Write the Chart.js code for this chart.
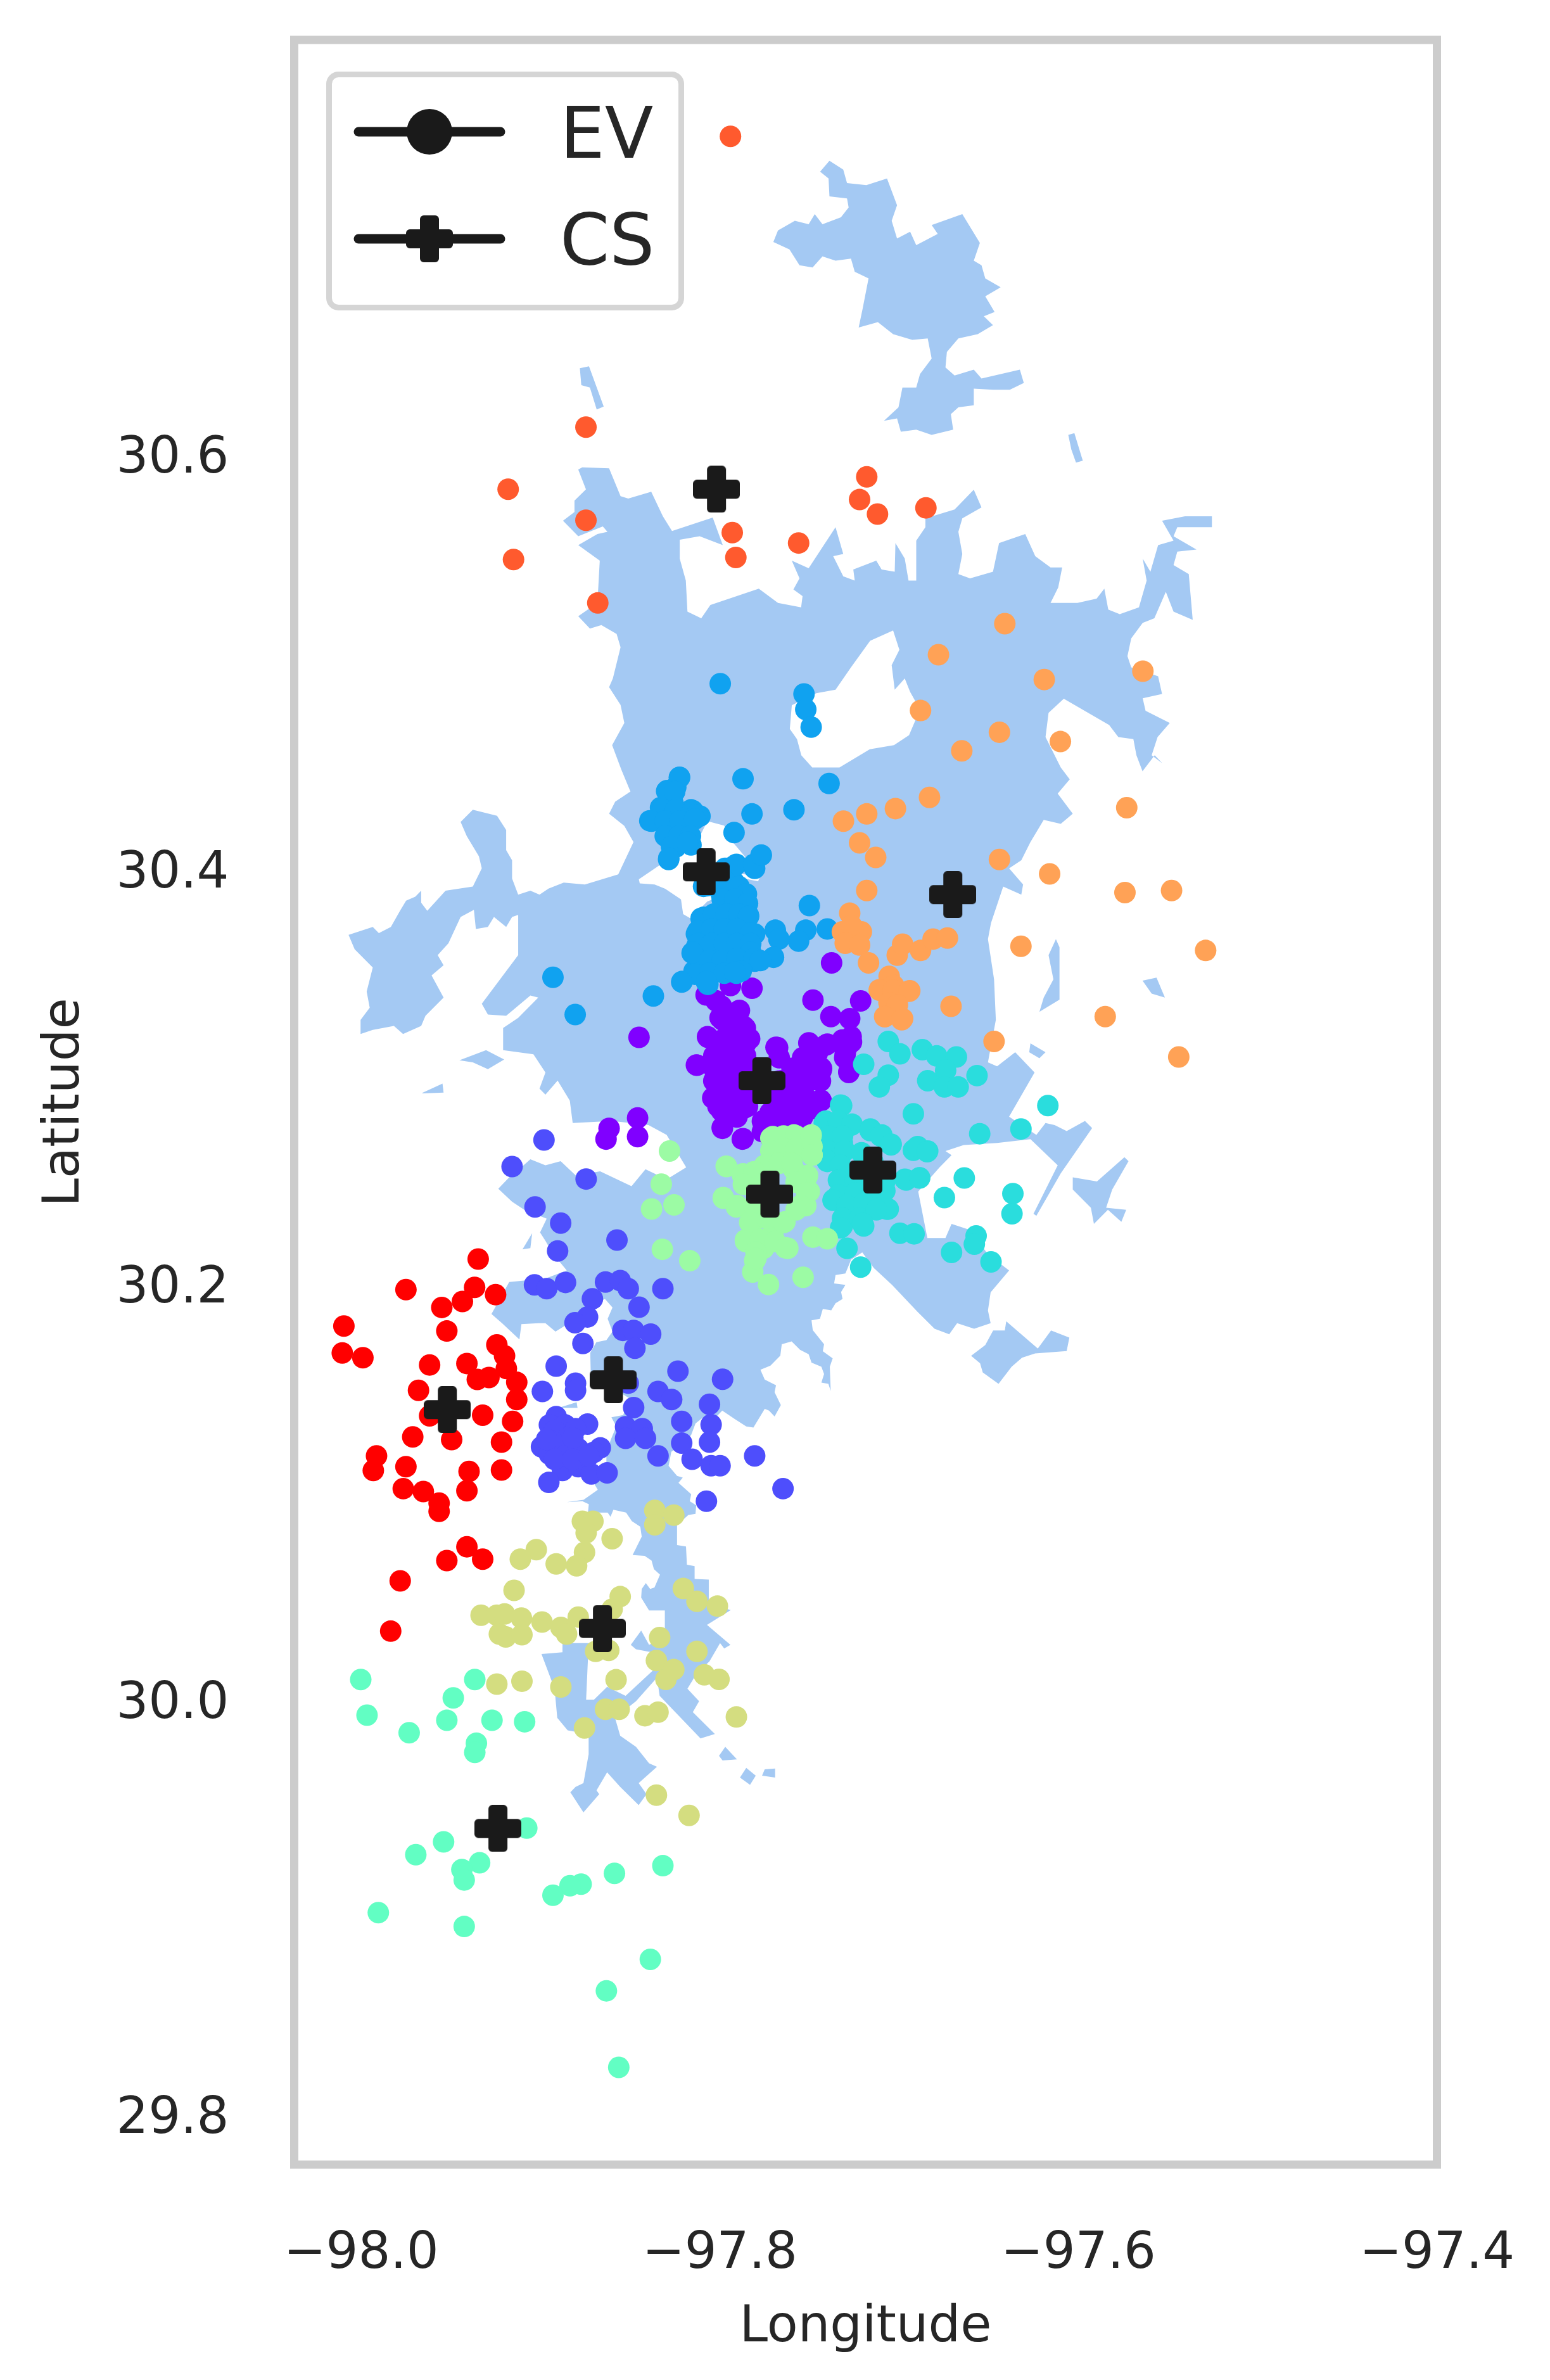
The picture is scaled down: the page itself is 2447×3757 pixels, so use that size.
<!DOCTYPE html>
<html>
<head>
<meta charset="utf-8">
<title>EV and CS locations</title>
<script src="https://cdn.jsdelivr.net/npm/chart.js@4/dist/chart.umd.js"></script>
<style>
  html, body { margin: 0; padding: 0; background: #fff; }
  canvas { display: block; }
</style>
</head>
<body>
<canvas id="mapChart" width="2447" height="3757"></canvas>
<script>
// axis ticks
const lonTicks = [-98.0, -97.8, -97.6, -97.4];
const latTicks = [29.8, 30.0, 30.2, 30.4, 30.6];

// latitudes below were read with a slightly short tick spacing, this brings them back
const LAT_READ_FIX = 0.99634;

// charging stations [lon, lat]
const csPoints = [[-97.8018,30.583],[-97.67,30.387],[-97.8076,30.398],[-97.7765,30.297],[-97.7146,30.2538],[-97.772,30.2422],[-97.8593,30.1524],[-97.9519,30.138],[-97.8654,30.0322],[-97.9237,29.9355]];

// EVs by cluster [lon, lat]
const evRed = [[-97.9347,30.2108],[-97.975,30.196],[-97.9367,30.1971],[-97.925,30.1936],[-97.9435,30.1903],[-97.955,30.1874],[-98.0096,30.1784],[-97.9522,30.176],[-98.0105,30.1654],[-97.999,30.1631],[-97.9243,30.1693],[-97.92,30.164],[-97.9618,30.1596],[-97.941,30.1603],[-97.919,30.1579],[-97.9352,30.1526],[-97.9287,30.1535],[-97.9132,30.1512],[-97.968,30.1473],[-97.9132,30.1429],[-97.9618,30.135],[-97.9322,30.1353],[-97.9155,30.1323],[-97.9712,30.1248],[-97.9495,30.1235],[-97.9217,30.1223],[-97.9914,30.1156],[-97.9932,30.1086],[-97.975,30.1104],[-97.9398,30.1081],[-97.9217,30.1088],[-97.9765,30.0998],[-97.9653,30.0984],[-97.9565,30.0928],[-97.9565,30.0888],[-97.941,30.0988],[-97.941,30.0717],[-97.9522,30.065],[-97.9322,30.0657],[-97.9782,30.0552],[-97.9835,30.0309]];
const evOrangeRed = [[-97.794,30.7536],[-97.8746,30.613],[-97.918,30.583],[-97.8746,30.568],[-97.915,30.549],[-97.868,30.528],[-97.793,30.562],[-97.791,30.55],[-97.756,30.557],[-97.718,30.589],[-97.722,30.578],[-97.712,30.571],[-97.685,30.574]];
const evOrange = [[-97.641,30.518],[-97.678,30.503],[-97.564,30.495],[-97.619,30.491],[-97.688,30.476],[-97.644,30.4655],[-97.61,30.461],[-97.665,30.4565],[-97.573,30.429],[-97.683,30.434],[-97.702,30.4286],[-97.718,30.426],[-97.731,30.4225],[-97.722,30.412],[-97.713,30.405],[-97.644,30.404],[-97.616,30.397],[-97.718,30.389],[-97.574,30.388],[-97.548,30.389],[-97.7275,30.378],[-97.632,30.362],[-97.529,30.36],[-97.7316,30.369],[-97.721,30.369],[-97.7265,30.372],[-97.73,30.3635],[-97.722,30.3626],[-97.717,30.354],[-97.701,30.3577],[-97.698,30.363],[-97.688,30.36],[-97.681,30.3655],[-97.673,30.366],[-97.7055,30.3475],[-97.711,30.341],[-97.694,30.3405],[-97.703,30.336],[-97.708,30.328],[-97.698,30.327],[-97.703,30.343],[-97.702,30.331],[-97.671,30.333],[-97.585,30.328],[-97.647,30.316],[-97.544,30.3085],[-97.7109,30.3408],[-97.7032,30.3408],[-97.6944,30.3403],[-97.7056,30.3347],[-97.7009,30.3337],[-97.7079,30.328],[-97.6985,30.3265]];
const evKhaki = [[-97.8362,30.0893],[-97.8256,30.087],[-97.8362,30.0823],[-97.8766,30.084],[-97.8707,30.084],[-97.8745,30.0784],[-97.86,30.0756],[-97.9023,30.0703],[-97.9112,30.0657],[-97.8754,30.069],[-97.8912,30.0634],[-97.8798,30.0625],[-97.9147,30.0506],[-97.8203,30.0515],[-97.8127,30.0453],[-97.8013,30.043],[-97.8555,30.0476],[-97.86,30.0415],[-97.9331,30.0386],[-97.9243,30.0386],[-97.92,30.0392],[-97.9106,30.0372],[-97.8991,30.0353],[-97.8789,30.0377],[-97.8886,30.0327],[-97.8854,30.0295],[-97.9229,30.0295],[-97.9193,30.0281],[-97.9103,30.0292],[-97.8335,30.0278],[-97.8692,30.0211],[-97.8619,30.0216],[-97.8127,30.0211],[-97.8353,30.0167],[-97.8256,30.0123],[-97.8086,30.0098],[-97.8004,30.0076],[-97.83,30.0076],[-97.9103,30.0067],[-97.9243,30.0053],[-97.8578,30.0074],[-97.8886,30.0039],[-97.8637,29.9931],[-97.8561,29.9931],[-97.8417,29.99],[-97.8344,29.9917],[-97.7907,29.9894],[-97.8754,29.9841],[-97.8353,29.9516],[-97.8171,29.9418]];
const evLightGreen = [[-97.828,30.263],[-97.8326,30.247],[-97.838,30.235],[-97.8255,30.237],[-97.832,30.2155],[-97.8167,30.21],[-97.7964,30.2557],[-97.787,30.252],[-97.798,30.2405],[-97.7907,30.236],[-97.7704,30.27],[-97.7586,30.2708],[-97.749,30.2708],[-97.7704,30.262],[-97.7586,30.262],[-97.7485,30.261],[-97.772,30.2551],[-97.7586,30.254],[-97.751,30.2512],[-97.75,30.2434],[-97.752,30.2366],[-97.7755,30.2464],[-97.779,30.2346],[-97.7636,30.2288],[-97.782,30.2278],[-97.7704,30.223],[-97.7857,30.22],[-97.7755,30.216],[-97.762,30.216],[-97.7805,30.21],[-97.7816,30.2045],[-97.7728,30.1985],[-97.7535,30.202],[-97.748,30.2214],[-97.74,30.2206],[-97.7715,30.2693],[-97.7644,30.2703],[-97.7574,30.2703],[-97.7491,30.2703],[-97.7715,30.2632],[-97.7644,30.2642],[-97.7574,30.2642],[-97.7485,30.2652],[-97.7485,30.2612],[-97.775,30.2561],[-97.7668,30.2571],[-97.7597,30.2571],[-97.7515,30.2504],[-97.7962,30.2555],[-97.7874,30.2515],[-97.7809,30.253],[-97.7868,30.2469],[-97.7774,30.2469],[-97.7574,30.2479],[-97.7515,30.2428],[-97.798,30.2402],[-97.7904,30.2367],[-97.7809,30.2367],[-97.755,30.2367],[-97.7833,30.2285],[-97.7739,30.2305],[-97.7644,30.2285],[-97.7574,30.2346],[-97.7856,30.2193],[-97.7774,30.2203],[-97.7691,30.2193],[-97.7633,30.2162],[-97.7798,30.2142],[-97.7798,30.2111]];
const evAqua = [[-98.0002,30.0075],[-97.9366,30.0075],[-97.9486,29.9986],[-97.9967,29.9903],[-97.9522,29.9878],[-97.927,29.9878],[-97.9088,29.9871],[-97.9732,29.9818],[-97.9357,29.9767],[-97.9366,29.9723],[-97.9076,29.9357],[-97.954,29.929],[-97.9695,29.9228],[-97.9339,29.9189],[-97.9438,29.9156],[-97.9425,29.9106],[-97.8317,29.9175],[-97.8587,29.9138],[-97.8773,29.9086],[-97.8835,29.9078],[-97.893,29.9032],[-97.9904,29.8948],[-97.9425,29.8881],[-97.8387,29.8722],[-97.8632,29.857],[-97.8563,29.82]];
const evCyan = [[-97.706,30.316],[-97.6995,30.31],[-97.687,30.312],[-97.679,30.309],[-97.668,30.3085],[-97.7197,30.305],[-97.706,30.2997],[-97.711,30.294],[-97.684,30.297],[-97.6565,30.2995],[-97.674,30.302],[-97.6747,30.294],[-97.667,30.294],[-97.617,30.285],[-97.692,30.281],[-97.632,30.2737],[-97.655,30.2714],[-97.6636,30.25],[-97.6747,30.2405],[-97.6365,30.2424],[-97.637,30.2327],[-97.691,30.264],[-97.684,30.263],[-97.7045,30.266],[-97.716,30.2737],[-97.7096,30.2708],[-97.7265,30.2756],[-97.732,30.285],[-97.7417,30.2766],[-97.745,30.27],[-97.74,30.258],[-97.7316,30.267],[-97.733,30.248],[-97.7366,30.2395],[-97.7265,30.2366],[-97.7146,30.2385],[-97.706,30.235],[-97.696,30.249],[-97.6886,30.25],[-97.708,30.248],[-97.7214,30.248],[-97.7316,30.2268],[-97.7197,30.2268],[-97.7214,30.2327],[-97.6995,30.2233],[-97.6916,30.223],[-97.729,30.216],[-97.7214,30.2069],[-97.6707,30.214],[-97.657,30.222],[-97.658,30.218],[-97.6487,30.2094],[-97.7146,30.258],[-97.7326,30.2852],[-97.7409,30.2775],[-97.7338,30.2775],[-97.7262,30.276],[-97.7161,30.2729],[-97.7103,30.2703],[-97.7044,30.2663],[-97.7397,30.2703],[-97.7315,30.2703],[-97.7397,30.2632],[-97.7303,30.2632],[-97.7209,30.2622],[-97.7403,30.2586],[-97.7326,30.2561],[-97.7338,30.2489],[-97.7244,30.2489],[-97.7338,30.2418],[-97.7244,30.2428],[-97.715,30.2428],[-97.7079,30.2438],[-97.7368,30.2392],[-97.7291,30.2367],[-97.7197,30.2377],[-97.7103,30.2356],[-97.7067,30.2349],[-97.7315,30.2305],[-97.722,30.2305],[-97.7126,30.2346],[-97.7326,30.2259],[-97.7203,30.228],[-97.6967,30.2494],[-97.6885,30.2501],[-97.692,30.2634],[-97.6896,30.2652],[-97.6843,30.2627]];
const evSky = [[-97.7997,30.489],[-97.753,30.484],[-97.752,30.4765],[-97.749,30.468],[-97.8225,30.4436],[-97.787,30.443],[-97.739,30.4407],[-97.782,30.426],[-97.7586,30.428],[-97.792,30.417],[-97.8296,30.437],[-97.8245,30.439],[-97.833,30.429],[-97.826,30.431],[-97.816,30.428],[-97.839,30.4227],[-97.8296,30.424],[-97.821,30.424],[-97.811,30.425],[-97.8296,30.415],[-97.819,30.415],[-97.8245,30.41],[-97.816,30.411],[-97.8285,30.404],[-97.777,30.406],[-97.7805,30.3997],[-97.7907,30.4016],[-97.797,30.3997],[-97.809,30.391],[-97.792,30.393],[-97.7857,30.387],[-97.799,30.387],[-97.75,30.3817],[-97.769,30.3698],[-97.74,30.3704],[-97.752,30.3698],[-97.756,30.3645],[-97.767,30.3655],[-97.77,30.3567],[-97.7805,30.3548],[-97.809,30.376],[-97.796,30.379],[-97.784,30.377],[-97.813,30.368],[-97.799,30.369],[-97.7805,30.368],[-97.813,30.3616],[-97.799,30.3616],[-97.7857,30.3616],[-97.8154,30.3587],[-97.806,30.3557],[-97.792,30.3557],[-97.782,30.3577],[-97.8143,30.35],[-97.799,30.35],[-97.7907,30.349],[-97.821,30.345],[-97.8066,30.3436],[-97.837,30.338],[-97.893,30.347],[-97.8806,30.329],[-97.8224,30.4437],[-97.8293,30.4373],[-97.8251,30.4368],[-97.8316,30.4281],[-97.8245,30.4281],[-97.8151,30.4276],[-97.8128,30.4255],[-97.8381,30.4225],[-97.8304,30.4225],[-97.8222,30.4225],[-97.8139,30.4235],[-97.8304,30.4153],[-97.8228,30.4153],[-97.8163,30.4153],[-97.8269,30.4102],[-97.8181,30.4123],[-97.8284,30.4046],[-97.7939,30.4],[-97.7916,30.401],[-97.781,30.4016],[-97.7768,30.4061],[-97.8069,30.3913],[-97.7975,30.3939],[-97.7892,30.3908],[-97.7851,30.3873],[-97.7986,30.3847],[-97.7916,30.3847],[-97.7845,30.3827],[-97.8104,30.3755],[-97.8033,30.3776],[-97.7963,30.3776],[-97.7892,30.3776],[-97.7839,30.3765],[-97.8122,30.3694],[-97.8045,30.3704],[-97.7975,30.3704],[-97.7904,30.3704],[-97.7827,30.3684],[-97.8122,30.3633],[-97.8045,30.3633],[-97.7975,30.3633],[-97.7904,30.3633],[-97.7827,30.3633],[-97.8151,30.359],[-97.7827,30.3592],[-97.8057,30.3551],[-97.7986,30.3551],[-97.7904,30.3561],[-97.781,30.3561],[-97.7774,30.3551],[-97.8139,30.3485],[-97.8057,30.349],[-97.7975,30.349],[-97.788,30.35],[-97.8075,30.3449],[-97.7916,30.3495],[-97.8212,30.3447]];
const evBlue = [[-97.898,30.2684],[-97.9158,30.2555],[-97.8745,30.2495],[-97.903,30.236],[-97.8887,30.2282],[-97.8904,30.2147],[-97.8573,30.22],[-97.9033,30.1983],[-97.8965,30.1965],[-97.886,30.1995],[-97.8637,30.1997],[-97.8555,30.2004],[-97.851,30.1965],[-97.8317,30.1965],[-97.871,30.1916],[-97.845,30.1875],[-97.8737,30.1828],[-97.8807,30.18],[-97.854,30.1763],[-97.848,30.1763],[-97.8385,30.1745],[-97.8763,30.17],[-97.8473,30.1677],[-97.8233,30.1566],[-97.7984,30.1527],[-97.8912,30.159],[-97.8804,30.1508],[-97.8804,30.1473],[-97.8989,30.1468],[-97.851,30.1508],[-97.8344,30.1468],[-97.8268,30.1429],[-97.8057,30.1406],[-97.848,30.139],[-97.8212,30.1323],[-97.8048,30.1307],[-97.8057,30.1223],[-97.8212,30.1218],[-97.8525,30.1297],[-97.8432,30.1288],[-97.8525,30.1241],[-97.8414,30.1241],[-97.8344,30.1156],[-97.8154,30.114],[-97.8048,30.1109],[-97.7998,30.1109],[-97.7805,30.1156],[-97.7647,30.0998],[-97.8074,30.0937],[-97.8912,30.1346],[-97.895,30.1306],[-97.8862,30.1306],[-97.8737,30.131],[-97.8804,30.1288],[-97.8892,30.1253],[-97.8994,30.12],[-97.8906,30.1191],[-97.8789,30.1191],[-97.8666,30.1195],[-97.8701,30.1174],[-97.895,30.1165],[-97.8877,30.1086],[-97.8789,30.1104],[-97.8716,30.1069],[-97.8628,30.1074],[-97.8953,30.1028],[-97.8921,30.128],[-97.8848,30.1244],[-97.8936,30.1227],[-97.8862,30.1156],[-97.8921,30.1139],[-97.8819,30.1139],[-97.8731,30.1156],[-97.8819,30.1244],[-97.8965,30.1236]];
const evPurple = [[-97.7376,30.354],[-97.794,30.343],[-97.782,30.3417],[-97.8076,30.3385],[-97.748,30.336],[-97.7214,30.3356],[-97.799,30.333],[-97.789,30.331],[-97.7985,30.3264],[-97.738,30.328],[-97.7275,30.327],[-97.845,30.318],[-97.8066,30.318],[-97.7857,30.3225],[-97.794,30.3167],[-97.7857,30.3147],[-97.7677,30.313],[-97.75,30.3147],[-97.74,30.3147],[-97.7316,30.3167],[-97.7265,30.3157],[-97.73,30.31],[-97.813,30.3046],[-97.799,30.31],[-97.787,30.307],[-97.7485,30.307],[-97.7434,30.302],[-97.728,30.301],[-97.7586,30.303],[-97.8008,30.299],[-97.7857,30.297],[-97.765,30.297],[-97.752,30.297],[-97.8025,30.289],[-97.7857,30.289],[-97.769,30.289],[-97.755,30.289],[-97.7434,30.2874],[-97.799,30.2825],[-97.787,30.2835],[-97.772,30.2815],[-97.7586,30.2815],[-97.7485,30.2835],[-97.7985,30.274],[-97.7755,30.2756],[-97.762,30.2756],[-97.787,30.269],[-97.772,30.27],[-97.8458,30.279],[-97.8617,30.274],[-97.8634,30.2688],[-97.8458,30.27],[-97.8068,30.3387],[-97.8021,30.3357],[-97.7998,30.3275],[-97.7892,30.3306],[-97.7951,30.3224],[-97.7868,30.3234],[-97.8068,30.3183],[-97.7998,30.3163],[-97.7915,30.3163],[-97.7833,30.3173],[-97.7686,30.3132],[-97.7503,30.3153],[-97.7409,30.3142],[-97.7267,30.3183],[-97.7291,30.3132],[-97.8033,30.3091],[-97.7951,30.3091],[-97.7856,30.3091],[-97.7668,30.3081],[-97.7538,30.3081],[-97.7456,30.3102],[-97.7303,30.3081],[-97.8127,30.3045],[-97.8033,30.303],[-97.7951,30.303],[-97.7856,30.303],[-97.7597,30.303],[-97.7515,30.303],[-97.7432,30.303],[-97.7279,30.3015],[-97.8033,30.2969],[-97.7951,30.2969],[-97.7856,30.2969],[-97.7668,30.2969],[-97.7585,30.2969],[-97.7503,30.2969],[-97.7438,30.2969],[-97.8039,30.2887],[-97.7962,30.2897],[-97.788,30.2897],[-97.7691,30.2887],[-97.7609,30.2897],[-97.7527,30.2897],[-97.7438,30.2877],[-97.801,30.2846],[-97.7927,30.2836],[-97.7845,30.2846],[-97.768,30.2836],[-97.7597,30.2836],[-97.7515,30.2836],[-97.7986,30.2744],[-97.7904,30.2795],[-97.7762,30.2775],[-97.768,30.2775],[-97.7597,30.2775],[-97.7538,30.2795],[-97.7874,30.2688],[-97.7762,30.2724],[-97.7691,30.2724]];

// service area outline [lon, lat]
const areaMain = [[-97.8767,30.5936],[-97.8617,30.5931],[-97.8553,30.5796],[-97.851,30.5785],[-97.8382,30.5818],[-97.8317,30.5699],[-97.8266,30.5628],[-97.8039,30.5693],[-97.7983,30.556],[-97.8112,30.5603],[-97.8223,30.5586],[-97.8223,30.5495],[-97.8189,30.5388],[-97.818,30.5238],[-97.8103,30.5206],[-97.8052,30.527],[-97.7782,30.5349],[-97.7675,30.528],[-97.7546,30.5259],[-97.7538,30.5313],[-97.7589,30.5345],[-97.7555,30.5399],[-97.7598,30.5485],[-97.7504,30.5448],[-97.7354,30.5646],[-97.7311,30.5517],[-97.7367,30.5506],[-97.7311,30.5409],[-97.7247,30.5388],[-97.7255,30.5442],[-97.7127,30.5485],[-97.7097,30.5442],[-97.7024,30.5431],[-97.702,30.557],[-97.6968,30.5495],[-97.6947,30.5388],[-97.6904,30.5388],[-97.6904,30.5581],[-97.6853,30.5646],[-97.6853,30.5689],[-97.669,30.5732],[-97.6583,30.5828],[-97.654,30.5742],[-97.6647,30.5689],[-97.6669,30.5624],[-97.6647,30.5517],[-97.6669,30.542],[-97.6604,30.5399],[-97.6476,30.5431],[-97.6442,30.557],[-97.6296,30.5613],[-97.624,30.5506],[-97.6155,30.5452],[-97.609,30.5452],[-97.6112,30.5355],[-97.6155,30.528],[-97.6005,30.528],[-97.5898,30.5301],[-97.5855,30.5349],[-97.5833,30.5248],[-97.5769,30.5226],[-97.5662,30.5259],[-97.5619,30.5388],[-97.5641,30.5495],[-97.5598,30.5431],[-97.5555,30.556],[-97.5469,30.5581],[-97.5533,30.5678],[-97.5405,30.5699],[-97.5255,30.5699],[-97.5255,30.5646],[-97.5448,30.5646],[-97.5469,30.5603],[-97.5341,30.5538],[-97.5448,30.5528],[-97.5469,30.5463],[-97.5384,30.542],[-97.5362,30.5198],[-97.5469,30.5238],[-97.5512,30.5334],[-97.5576,30.5206],[-97.5641,30.5184],[-97.5705,30.5109],[-97.5726,30.5023],[-97.5705,30.4969],[-97.5555,30.4926],[-97.5533,30.484],[-97.5641,30.4819],[-97.5625,30.4759],[-97.549,30.47],[-97.5558,30.4632],[-97.5591,30.4544],[-97.5531,30.4505],[-97.5574,30.4544],[-97.5642,30.4466],[-97.5676,30.4544],[-97.5693,30.4622],[-97.5777,30.4632],[-97.5828,30.469],[-97.6081,30.4817],[-97.6166,30.4749],[-97.6183,30.4632],[-97.6098,30.4485],[-97.6048,30.4427],[-97.6115,30.4358],[-97.6031,30.4261],[-97.6098,30.4212],[-97.6193,30.4231],[-97.6267,30.4124],[-97.6318,30.4036],[-97.6386,30.3997],[-97.6308,30.3919],[-97.6318,30.387],[-97.6419,30.3909],[-97.6487,30.3733],[-97.6504,30.3655],[-97.647,30.346],[-97.646,30.3264],[-97.6504,30.3059],[-97.6453,30.304],[-97.6352,30.3108],[-97.6244,30.301],[-97.6386,30.2796],[-97.6234,30.2708],[-97.6183,30.2766],[-97.6132,30.2756],[-97.6065,30.2727],[-97.5963,30.2776],[-97.5923,30.2741],[-97.6098,30.2522],[-97.6234,30.2317],[-97.625,30.2327],[-97.6115,30.2561],[-97.6267,30.2688],[-97.6453,30.2669],[-97.6639,30.2659],[-97.6741,30.263],[-97.6707,30.261],[-97.6774,30.2551],[-97.6893,30.2434],[-97.6842,30.221],[-97.6741,30.221],[-97.6707,30.2278],[-97.6605,30.2249],[-97.6504,30.2131],[-97.6386,30.2053],[-97.6489,30.1947],[-97.6504,30.1859],[-97.6489,30.1798],[-97.6581,30.1771],[-97.6676,30.1798],[-97.672,30.1744],[-97.6802,30.1771],[-97.6897,30.1853],[-97.7039,30.1983],[-97.7141,30.2065],[-97.7205,30.214],[-97.7267,30.2106],[-97.7299,30.2038],[-97.7354,30.2031],[-97.7362,30.199],[-97.7299,30.1983],[-97.7323,30.1949],[-97.7315,30.1915],[-97.7354,30.1894],[-97.7378,30.186],[-97.7425,30.1867],[-97.7441,30.1819],[-97.7488,30.1812],[-97.7481,30.1764],[-97.7418,30.1696],[-97.7425,30.1662],[-97.737,30.1628],[-97.7386,30.1587],[-97.7381,30.147],[-97.7394,30.1505],[-97.7433,30.1511],[-97.7418,30.1552],[-97.7433,30.1587],[-97.7488,30.1607],[-97.7504,30.1648],[-97.7552,30.1669],[-97.7599,30.171],[-97.7654,30.1696],[-97.7662,30.1641],[-97.7717,30.1593],[-97.7773,30.1573],[-97.7749,30.1525],[-97.7686,30.1498],[-97.7694,30.1464],[-97.7659,30.1402],[-97.7694,30.1347],[-97.7725,30.1375],[-97.7749,30.1384],[-97.7812,30.1293],[-97.7852,30.1299],[-97.7915,30.1334],[-97.7986,30.1375],[-97.8025,30.134],[-97.8096,30.134],[-97.8135,30.1313],[-97.8159,30.1258],[-97.8199,30.1217],[-97.827,30.1176],[-97.8285,30.1108],[-97.8238,30.106],[-97.8206,30.1051],[-97.823,30.1026],[-97.8159,30.0971],[-97.8167,30.0937],[-97.8131,30.0917],[-97.8135,30.0876],[-97.8175,30.0871],[-97.8238,30.0821],[-97.8238,30.0725],[-97.8188,30.0718],[-97.8183,30.063],[-97.814,30.0623],[-97.814,30.0561],[-97.8061,30.0558],[-97.8061,30.0438],[-97.7938,30.0411],[-97.8071,30.0339],[-97.794,30.0243],[-97.7975,30.0225],[-97.7998,30.0251],[-97.8057,30.0163],[-97.813,30.0102],[-97.818,30.0031],[-97.8115,29.997],[-97.815,29.9917],[-97.8027,29.9812],[-97.8107,29.979],[-97.8335,29.9996],[-97.835,30.0084],[-97.8467,29.997],[-97.8584,29.989],[-97.8555,29.9803],[-97.8467,29.975],[-97.8394,29.967],[-97.835,29.9653],[-97.8452,29.9574],[-97.8408,29.9521],[-97.8452,29.9468],[-97.8555,29.9556],[-97.8628,29.9626],[-97.8687,29.9539],[-97.8672,29.9521],[-97.876,29.9433],[-97.8833,29.953],[-97.8804,29.9556],[-97.876,29.9574],[-97.8731,29.9714],[-97.8731,29.9811],[-97.8848,29.9829],[-97.8906,29.989],[-97.8921,30.0031],[-97.8994,30.0198],[-97.8877,30.0207],[-97.8877,30.0251],[-97.8731,30.0251],[-97.8745,29.9978],[-97.8701,29.9978],[-97.8628,30.004],[-97.8525,29.9996],[-97.835,30.0137],[-97.8379,30.0207],[-97.8467,30.0221],[-97.8496,30.0243],[-97.8438,30.0312],[-97.8394,30.0243],[-97.8306,30.0278],[-97.8306,30.0409],[-97.8394,30.0409],[-97.8438,30.0471],[-97.8435,30.0513],[-97.8412,30.0541],[-97.8388,30.0513],[-97.8364,30.052],[-97.8333,30.0582],[-97.8367,30.0609],[-97.838,30.065],[-97.8419,30.0673],[-97.8486,30.0677],[-97.8435,30.0766],[-97.8443,30.0814],[-97.849,30.0841],[-97.8522,30.0882],[-97.8593,30.0896],[-97.8609,30.0862],[-97.8625,30.0882],[-97.8735,30.0882],[-97.873,30.0923],[-97.8766,30.0937],[-97.8853,30.0933],[-97.8759,30.0944],[-97.868,30.0992],[-97.8703,30.1026],[-97.8632,30.1081],[-97.8632,30.1163],[-97.8609,30.1231],[-97.8577,30.1299],[-97.8604,30.1343],[-97.8538,30.1354],[-97.8506,30.1436],[-97.8569,30.147],[-97.8719,30.1546],[-97.8722,30.1655],[-97.8688,30.1706],[-97.8632,30.1716],[-97.8598,30.1757],[-97.8625,30.1819],[-97.8598,30.1874],[-97.864,30.1915],[-97.8711,30.1887],[-97.8774,30.1833],[-97.8916,30.1757],[-97.8972,30.1798],[-97.9011,30.1798],[-97.9106,30.1793],[-97.9117,30.1719],[-97.9214,30.1798],[-97.9273,30.1842],[-97.9174,30.1997],[-97.8972,30.2014],[-97.8853,30.2053],[-97.8931,30.2135],[-97.8972,30.2196],[-97.9002,30.2237],[-97.8965,30.2303],[-97.909,30.2346],[-97.9158,30.2385],[-97.9235,30.2448],[-97.9174,30.2503],[-97.9107,30.2551],[-97.9056,30.259],[-97.8972,30.2561],[-97.8887,30.2581],[-97.8803,30.2512],[-97.8667,30.2532],[-97.8492,30.246],[-97.8414,30.2542],[-97.8296,30.2493],[-97.8187,30.2551],[-97.8296,30.2708],[-97.8397,30.2756],[-97.86,30.2776],[-97.882,30.2766],[-97.8836,30.2874],[-97.8904,30.2971],[-97.8972,30.2903],[-97.9005,30.2932],[-97.8972,30.301],[-97.9039,30.3098],[-97.9208,30.3118],[-97.9208,30.3225],[-97.9124,30.3274],[-97.9012,30.3372],[-97.9056,30.3382],[-97.9191,30.3284],[-97.9293,30.329],[-97.9327,30.3342],[-97.9124,30.3577],[-97.9124,30.3772],[-97.9158,30.3762],[-97.9191,30.3714],[-97.9259,30.3762],[-97.9293,30.3714],[-97.936,30.3704],[-97.9371,30.3796],[-97.9445,30.3762],[-97.9513,30.3635],[-97.9573,30.3577],[-97.954,30.3528],[-97.9607,30.3479],[-97.954,30.3372],[-97.9641,30.3284],[-97.9665,30.3235],[-97.9766,30.3196],[-97.9817,30.3235],[-97.9935,30.3216],[-98.0003,30.3196],[-98.0003,30.3264],[-97.9952,30.3323],[-97.9969,30.3401],[-97.9935,30.3518],[-98.0036,30.3606],[-98.007,30.3675],[-97.9935,30.3714],[-97.9901,30.3684],[-97.9834,30.3714],[-97.9783,30.3792],[-97.9749,30.3841],[-97.9698,30.386],[-97.9665,30.3889],[-97.9665,30.3831],[-97.9631,30.3792],[-97.9529,30.3889],[-97.9377,30.3909],[-97.9327,30.3997],[-97.9343,30.4055],[-97.9411,30.4153],[-97.9445,30.4221],[-97.9377,30.428],[-97.9242,30.4251],[-97.9191,30.4182],[-97.9191,30.4085],[-97.9158,30.4036],[-97.9158,30.3948],[-97.9124,30.387],[-97.9056,30.3889],[-97.9005,30.387],[-97.8955,30.3899],[-97.887,30.3928],[-97.8752,30.3919],[-97.8566,30.3968],[-97.8481,30.4124],[-97.8532,30.4202],[-97.8617,30.4261],[-97.8583,30.4319],[-97.8498,30.4368],[-97.8549,30.4475],[-97.86,30.4593],[-97.8532,30.47],[-97.8553,30.4787],[-97.8617,30.4873],[-97.8596,30.4915],[-97.8553,30.5066],[-97.8575,30.513],[-97.866,30.5173],[-97.8724,30.5156],[-97.8789,30.5216],[-97.8682,30.528],[-97.8669,30.5485],[-97.8789,30.556],[-97.8682,30.5613],[-97.8626,30.5624],[-97.8652,30.565],[-97.8789,30.5603],[-97.8874,30.5678],[-97.881,30.572],[-97.881,30.5775],[-97.8746,30.5829],[-97.8789,30.5925]];
const areaNorth = [[-97.7388,30.7418],[-97.744,30.7365],[-97.7393,30.7332],[-97.7388,30.7246],[-97.729,30.7236],[-97.7281,30.7192],[-97.7324,30.7145],[-97.7427,30.7111],[-97.747,30.716],[-97.7504,30.7111],[-97.7581,30.7128],[-97.7675,30.7081],[-97.7701,30.7025],[-97.7611,30.6989],[-97.7555,30.6913],[-97.7482,30.6902],[-97.7427,30.6956],[-97.7354,30.6935],[-97.7268,30.6945],[-97.7247,30.6881],[-97.717,30.6849],[-97.7204,30.6698],[-97.7225,30.6612],[-97.7118,30.6638],[-97.7033,30.658],[-97.6926,30.6552],[-97.684,30.6559],[-97.6818,30.6462],[-97.6883,30.6387],[-97.6904,30.6322],[-97.6981,30.6322],[-97.7003,30.6226],[-97.7084,30.6161],[-97.7011,30.6172],[-97.699,30.6108],[-97.6904,30.6118],[-97.6818,30.6093],[-97.6698,30.6118],[-97.6711,30.6193],[-97.6669,30.6226],[-97.6583,30.6236],[-97.6583,30.6316],[-97.6476,30.6311],[-97.6382,30.6311],[-97.6304,30.6344],[-97.6326,30.6408],[-97.654,30.6365],[-97.6583,30.6408],[-97.669,30.638],[-97.6741,30.6419],[-97.6733,30.6494],[-97.6669,30.6559],[-97.6561,30.658],[-97.6476,30.6623],[-97.6527,30.6666],[-97.6467,30.6687],[-97.6519,30.6763],[-97.6433,30.6806],[-97.6519,30.6849],[-97.654,30.6913],[-97.6583,30.6935],[-97.6549,30.7021],[-97.6647,30.716],[-97.6818,30.7107],[-97.6784,30.7064],[-97.6904,30.701],[-97.6938,30.7075],[-97.7011,30.7042],[-97.7041,30.7128],[-97.7011,30.7203],[-97.7067,30.7332],[-97.7182,30.73],[-97.729,30.731],[-97.7311,30.7375]];
const areaIsletNW = [[-97.878,30.6415],[-97.8729,30.6424],[-97.8647,30.623],[-97.8686,30.6215],[-97.8724,30.6322],[-97.8772,30.6333]];
const areaIsletN = [[-97.6056,30.6093],[-97.6022,30.6101],[-97.5975,30.5968],[-97.6013,30.5959],[-97.6039,30.6022]];
const areaIsletE1 = [[-97.5642,30.3454],[-97.5564,30.3469],[-97.5517,30.3372],[-97.5591,30.3391]];
const areaStripE = [[-97.6125,30.3655],[-97.6105,30.3616],[-97.6105,30.3362],[-97.6217,30.3303],[-97.6193,30.3372],[-97.6139,30.346],[-97.6166,30.3577]];
const areaIsletE2 = [[-97.6267,30.3151],[-97.6183,30.3108],[-97.6217,30.3079],[-97.6274,30.3108]];
const areaIsletW1 = [[-97.9452,30.3069],[-97.9303,30.3118],[-97.9202,30.3073],[-97.9293,30.3026],[-97.9377,30.3059]];
const areaIsletW2 = [[-97.9665,30.2909],[-97.9546,30.2956],[-97.954,30.2913]];
const areaStripW = [[-97.91,30.2155],[-97.9046,30.2233],[-97.9056,30.2161]];
const areaStripSW = [[-97.89,30.1388],[-97.8798,30.1416],[-97.8793,30.1388]];
const areaSE1 = [[-97.6402,30.1807],[-97.6226,30.1675],[-97.6152,30.1763],[-97.605,30.1728],[-97.6065,30.1663],[-97.6241,30.1652],[-97.6314,30.1631],[-97.6372,30.1587],[-97.6445,30.1505],[-97.6533,30.156],[-97.6548,30.1604],[-97.6598,30.164],[-97.6519,30.1692],[-97.6475,30.1763],[-97.641,30.1763]];
const areaSE2 = [[-97.6031,30.2503],[-97.5896,30.2483],[-97.5743,30.26],[-97.572,30.2581],[-97.5811,30.2444],[-97.5845,30.2356],[-97.5733,30.2346],[-97.576,30.2288],[-97.5835,30.2346],[-97.5913,30.2278],[-97.593,30.2356],[-97.6031,30.2444]];
const areaS1 = [[-97.7969,29.975],[-97.7904,29.9689],[-97.7984,29.9684],[-97.8004,29.9706]];
const areaS2 = [[-97.7852,29.9648],[-97.7799,29.961],[-97.7831,29.9566],[-97.7887,29.9601]];
const areaS3 = [[-97.7749,29.9641],[-97.7691,29.9645],[-97.7691,29.9601],[-97.7764,29.961]];
// holes in the area
const holeLake = [[-97.7598,30.4786],[-97.7461,30.4844],[-97.7354,30.4861],[-97.7268,30.4969],[-97.7161,30.5097],[-97.7033,30.5147],[-97.6998,30.5054],[-97.7041,30.4979],[-97.7024,30.4861],[-97.6968,30.4915],[-97.6938,30.485],[-97.6883,30.4765],[-97.6944,30.4641],[-97.7028,30.4593],[-97.7163,30.4573],[-97.7332,30.4485],[-97.7484,30.4485],[-97.7545,30.4544],[-97.7569,30.4622],[-97.7609,30.4671]];
const holeCs = [[-97.8451,30.3944],[-97.8339,30.401],[-97.8222,30.4067],[-97.8104,30.4164],[-97.8069,30.4225],[-97.7975,30.4204],[-97.7927,30.4123],[-97.7857,30.4051],[-97.7892,30.401],[-97.788,30.397],[-97.7774,30.3959],[-97.7786,30.3934],[-97.7868,30.3949],[-97.801,30.3857],[-97.8069,30.3837],[-97.8163,30.3755],[-97.8204,30.3776],[-97.8216,30.3847],[-97.8304,30.3898],[-97.8363,30.3919],[-97.8446,30.3924]];

const AREA_COLOR = '#a4c9f3';
const INK = '#262626';
const MARK = '#1a1a1a';
const FONT = '"DejaVu Sans"';

function toXY(list) {
    return list.map(p => ({ x: p[0], y: 30.6 + (p[1] - 30.6) * LAT_READ_FIX }));
}

// filled plus with the slightly rounded corners of matplotlib's "P" marker
function makePlus() {
    const c = document.createElement('canvas');
    c.width = 74;
    c.height = 74;
    const g = c.getContext('2d');
    g.fillStyle = MARK;
    g.beginPath();
    g.roundRect(22, 0, 30, 74, 6);
    g.roundRect(0, 22, 74, 30, 6);
    g.fill();
    return c;
}
const plusIcon = makePlus();

function polygon(list, color) {
    return {
        label: '', data: toXY(list), showLine: true, tension: 0, pointRadius: 0, pointHoverRadius: 0,
        borderWidth: 0, borderColor: 'transparent', backgroundColor: color, fill: 'shape'
    };
}

function dots(label, list, color) {
    return {
        label: label, data: toXY(list), showLine: false, pointStyle: 'circle', pointRadius: 17,
        pointHoverRadius: 17, pointBorderWidth: 0, pointBackgroundColor: color, backgroundColor: color
    };
}

// first dataset is painted last
const datasets = [
    {
        label: 'CS', data: toXY(csPoints), showLine: false, pointStyle: plusIcon, pointRadius: 37,
        pointHoverRadius: 37, pointBorderWidth: 0, pointBackgroundColor: MARK
    },
    dots('EV', evRed, '#ff0000'),
    dots('EV', evOrangeRed, '#ff5a2e'),
    dots('EV', evOrange, '#ffa256'),
    dots('EV', evKhaki, '#d4dd80'),
    dots('EV', evLightGreen, '#9cfba4'),
    dots('EV', evAqua, '#62fec3'),
    dots('EV', evCyan, '#2adddd'),
    dots('EV', evSky, '#10a2f0'),
    dots('EV', evBlue, '#4e4efc'),
    dots('EV', evPurple, '#8000ff'),
    polygon(holeCs, '#ffffff'),
    polygon(holeLake, '#ffffff'),
    polygon(areaMain, AREA_COLOR),
    polygon(areaNorth, AREA_COLOR),
    polygon(areaIsletNW, AREA_COLOR),
    polygon(areaIsletN, AREA_COLOR),
    polygon(areaIsletE1, AREA_COLOR),
    polygon(areaStripE, AREA_COLOR),
    polygon(areaIsletE2, AREA_COLOR),
    polygon(areaIsletW1, AREA_COLOR),
    polygon(areaIsletW2, AREA_COLOR),
    polygon(areaStripW, AREA_COLOR),
    polygon(areaStripSW, AREA_COLOR),
    polygon(areaSE1, AREA_COLOR),
    polygon(areaSE2, AREA_COLOR),
    polygon(areaS1, AREA_COLOR),
    polygon(areaS2, AREA_COLOR),
    polygon(areaS3, AREA_COLOR)
];

// axes frame, same on all four sides
const frameBox = {
    id: 'frameBox',
    afterDatasetsDraw(chart) {
        const a = chart.chartArea;
        const ctx = chart.ctx;
        ctx.save();
        ctx.strokeStyle = '#cccccc';
        ctx.lineWidth = 13;
        ctx.strokeRect(a.left, a.top, a.right - a.left, a.bottom - a.top);
        ctx.restore();
    }
};

// matplotlib style legend: line through the marker
const legendBox = {
    id: 'legendBox',
    afterDraw(chart) {
        const ctx = chart.ctx;
        ctx.save();
        ctx.fillStyle = '#ffffff';
        ctx.strokeStyle = '#d5d5d5';
        ctx.lineWidth = 9;
        ctx.beginPath();
        ctx.roundRect(519.5, 117.5, 556, 368, 15);
        ctx.fill();
        ctx.stroke();

        ctx.strokeStyle = MARK;
        ctx.fillStyle = MARK;
        ctx.lineWidth = 15;
        ctx.lineCap = 'round';
        [208, 377].forEach(y => {
            ctx.beginPath();
            ctx.moveTo(566, y);
            ctx.lineTo(790, y);
            ctx.stroke();
        });
        ctx.lineCap = 'butt';
        Chart.helpers.drawPoint(ctx, { pointStyle: 'circle', radius: 36, borderWidth: 0 }, 678, 208);
        Chart.helpers.drawPoint(ctx, { pointStyle: plusIcon, radius: 37, borderWidth: 0 }, 678, 377);

        ctx.fillStyle = INK;
        ctx.font = '112px ' + FONT;
        ctx.textAlign = 'left';
        ctx.textBaseline = 'alphabetic';
        ctx.fillText('EV', 884, 249);
        ctx.fillText('CS', 884, 417);
        ctx.restore();
    }
};

const tickFont = { family: FONT, size: 80 };

new Chart(document.getElementById('mapChart'), {
    type: 'scatter',
    data: { datasets: datasets },
    plugins: [frameBox, legendBox],
    options: {
        responsive: false,
        devicePixelRatio: 1,
        animation: false,
        layout: { padding: { left: 0, right: 178.5, top: 63, bottom: 0 } },
        plugins: { legend: { display: false }, tooltip: { enabled: false } },
        scales: {
            x: {
                type: 'linear',
                min: -98.0373,
                max: -97.4,
                grid: { display: false },
                border: { display: false },
                afterBuildTicks(scale) { scale.ticks = lonTicks.map(v => ({ value: v })); },
                afterFit(scale) { scale.height = 340; scale.paddingLeft = 0; scale.paddingRight = 0; },
                ticks: {
                    autoSkip: false, maxRotation: 0, padding: 86, color: INK, font: tickFont,
                    callback: v => '\u2212' + Math.abs(v).toFixed(1)
                },
                title: { display: true, text: 'Longitude', color: INK, font: tickFont, padding: { top: 40, bottom: 34 } }
            },
            y: {
                type: 'linear',
                min: 29.776,
                max: 30.7995,
                grid: { display: false },
                border: { display: false },
                afterBuildTicks(scale) { scale.ticks = latTicks.map(v => ({ value: v })); },
                afterFit(scale) { scale.width = 464.5; scale.paddingTop = 0; scale.paddingBottom = 0; },
                ticks: {
                    autoSkip: false, padding: 95, labelOffset: 8, color: INK, font: tickFont,
                    callback: v => v.toFixed(1)
                },
                title: { display: true, text: 'Latitude', color: INK, font: tickFont, padding: { top: 55, bottom: 20 } }
            }
        }
    }
});
</script>
</body>
</html>
